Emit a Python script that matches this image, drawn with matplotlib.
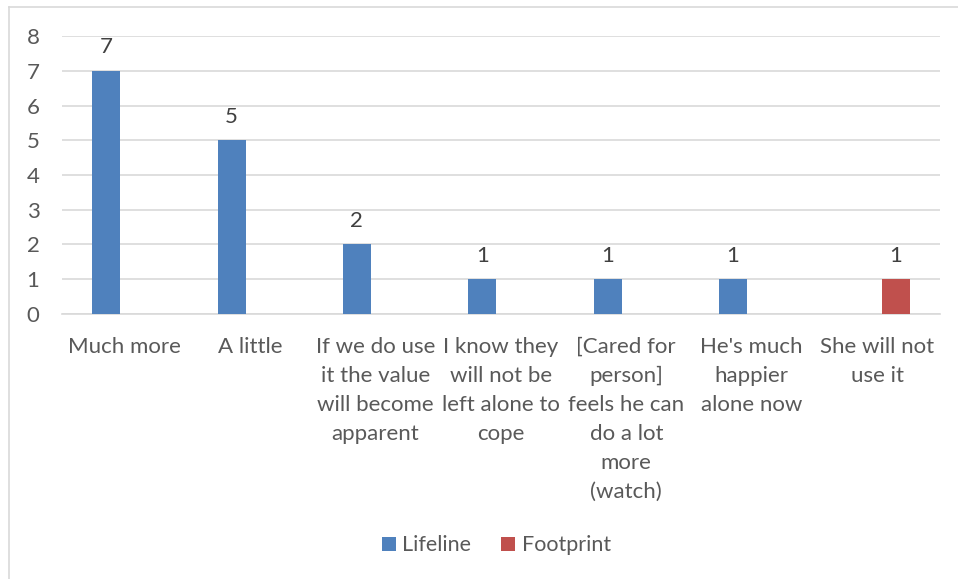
import matplotlib.pyplot as plt
import numpy as np

# %% data
categories = [
  'Much more',
  'A little',
  'If we do use\nit the value\nwill become\napparent',
  'I know they\nwill not be\nleft alone to\ncope',
  '[Cared for\nperson]\nfeels he can\ndo a lot\nmore\n(watch)',
  "He's much\nhappier\nalone now",
  'She will not\nuse it',
]
lifeline = [7, 5, 2, 1, 1, 1, None]
footprint = [None, None, None, None, None, None, 1]

# %% plot
plt.rcParams['font.family'] = ['Lato', 'DejaVu Sans']
textColor = '#595959'
fs = 16

fig = plt.figure(figsize=(9.58, 5.79), dpi=100)
ax = fig.add_axes([0.0647, 0.4577, 0.9163, 0.4801])

x = np.arange(len(categories))
w = 0.223
off = 0.148

def drawSeries(vals, dx, color, label):
  xs = [xi + dx for xi, v in zip(x, vals) if v is not None]
  ys = [v for v in vals if v is not None]
  bars = ax.bar(xs, ys, width=w, color=color, label=label, zorder=3)
  for b, v in zip(bars, ys):
    ax.annotate(str(v), (b.get_x() + b.get_width() / 2, v), xytext=(0, 17),
                textcoords='offset points', ha='center', va='center',
                fontsize=fs, color='#404040')
  return bars

drawSeries(lifeline, -off, '#4F81BD', 'Lifeline')
drawSeries(footprint, off, '#C0504D', 'Footprint')

ax.set_xlim(-0.5, len(categories) - 0.5)
ax.set_ylim(0, 8)
ax.set_yticks(range(0, 9))
ax.yaxis.grid(True, color='#D9D9D9', linewidth=1.2, zorder=0)
ax.set_axisbelow(True)
for s in ['top', 'right', 'left']:
  ax.spines[s].set_visible(False)
ax.spines['bottom'].set_color('#D9D9D9')
ax.spines['bottom'].set_linewidth(1.2)
ax.tick_params(axis='both', length=0, labelsize=fs, colors=textColor)
ax.tick_params(axis='y', pad=25.5)
ax.tick_params(axis='x', pad=16.5)
ax.set_xticks(x)
ax.set_xticklabels(categories, linespacing=1.56, va='top')
for lbl in ax.get_yticklabels():
  lbl.set_horizontalalignment('left')

leg = fig.legend(loc='center', bbox_to_anchor=(0.518, 0.058), ncol=2, frameon=False,
                 fontsize=15.5, handlelength=0.65, handleheight=0.65, handletextpad=0.3,
                 columnspacing=1.4, labelcolor=textColor)

# border of the chart area (only left and top visible in the crop)
fig.add_artist(plt.Line2D([9 / 958, 9 / 958], [0, 1 - 7 / 579], color='#D9D9D9', lw=1.2, transform=fig.transFigure))
fig.add_artist(plt.Line2D([9 / 958, 1], [1 - 7 / 579, 1 - 7 / 579], color='#D9D9D9', lw=1.2, transform=fig.transFigure))

fig.savefig('out.png', dpi=100)
